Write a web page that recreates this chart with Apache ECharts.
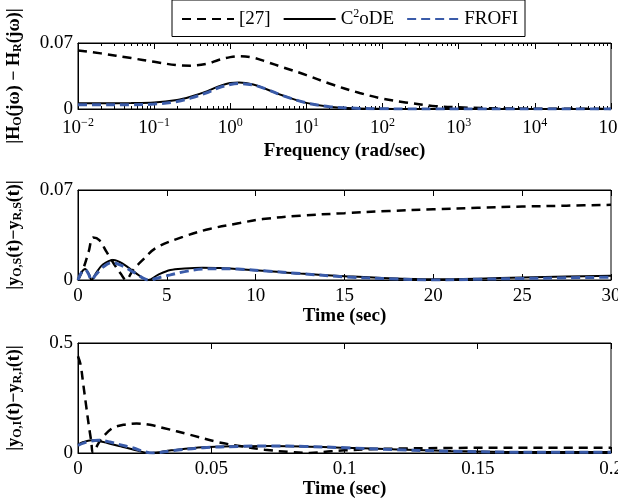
<!DOCTYPE html>
<html><head><meta charset="utf-8">
<script src="https://cdn.jsdelivr.net/npm/echarts@6/dist/echarts.min.js"></script>
<style>html,body{margin:0;padding:0;background:#fff}#c{width:618px;height:503px}</style>
</head><body><div id="c"></div>
<script>
// ---------- data ----------
const seriesNames = ['[27]', 'C2oDE', 'FROFI'];

// top: frequency response error
const freq = [0.01,0.02,0.05,0.1,0.2,0.3,0.5,0.7,1,1.3,2,3,5,10,20,50,100,200,500,1000,2000,5000,10000,100000];
const freqRef27 = [0.062,0.059,0.054,0.050,0.0465,0.046,0.048,0.052,0.055,0.056,0.0545,0.050,0.044,0.036,0.027,0.017,0.011,0.007,0.003,0.0018,0.001,0.0005,0.0003,0.0001];
const freqC2oDE = [0.0062,0.0062,0.0063,0.0068,0.0095,0.013,0.019,0.024,0.0275,0.028,0.026,0.021,0.014,0.0065,0.0025,0.0006,0.0002,0.0001,0.0001,0.0001,0.0001,0.0001,0.0001,0.0001];
const freqFROFI = [0.0045,0.0045,0.0046,0.0052,0.008,0.0115,0.0175,0.0225,0.026,0.027,0.0255,0.021,0.014,0.0065,0.0025,0.0006,0.0002,0.0001,0.0001,0.0001,0.0001,0.0001,0.0001,0.0001];

// middle: step response error
const tStepRef27 = [0,0.3,0.6,0.85,1.2,1.6,2.0,2.4,2.7,3.1,3.6,4.4,5.9,7.4,9.1,10.4,12.5,15,17.5,20,22.5,25,27.5,30];
const stepRef27  = [0,0.009,0.022,0.033,0.031,0.022,0.013,0.005,0,0.0078,0.015,0.025,0.0335,0.0397,0.0443,0.0474,0.050,0.052,0.0537,0.055,0.0562,0.0571,0.0578,0.0585];
const tStepC2oDE = [0,0.2,0.4,0.6,0.77,1.0,1.4,2.0,2.6,3.2,3.95,4.5,5.2,6,7,8,8.9,10.6,12.5,15,17.5,20,22.5,25,27.5,30];
const stepC2oDE  = [0,0.006,0.0085,0.005,0,0.005,0.012,0.0156,0.012,0.006,0,0.004,0.0078,0.009,0.0096,0.0094,0.0085,0.007,0.005,0.003,0.0013,0.0005,0.001,0.002,0.0027,0.0033];
const tStepFROFI = [0,0.2,0.4,0.6,0.75,1.0,1.4,1.9,2.5,3.2,4.0,4.6,5.2,6,7,8,9,10.6,12.5,15,17.5,20,22.5,25,27.5,30];
const stepFROFI  = [0,0.006,0.008,0.0045,0,0.004,0.010,0.0135,0.011,0.0055,0,0.002,0.004,0.0065,0.0085,0.0088,0.0085,0.007,0.005,0.0025,0.001,0,0.0006,0.0012,0.0017,0.0022];

// bottom: impulse response error
const tImpRef27 = [0,0.001,0.002,0.003,0.004,0.005,0.0056,0.0075,0.0094,0.0131,0.017,0.022,0.027,0.032,0.042,0.052,0.062,0.07,0.08,0.087,0.095,0.1,0.11,0.12,0.14,0.17,0.2];
const impRef27  = [0.44,0.40,0.31,0.22,0.13,0.05,0,0.04,0.074,0.114,0.128,0.134,0.128,0.114,0.083,0.051,0.029,0.015,0.004,0,0.008,0.012,0.017,0.02,0.023,0.024,0.024];
const tImpC2oDE = [0,0.002,0.005,0.008,0.012,0.016,0.02,0.027,0.035,0.047,0.06,0.072,0.085,0.1,0.12,0.14,0.16,0.18,0.2];
const impC2oDE  = [0.038,0.05,0.058,0.055,0.042,0.03,0.018,0,0.012,0.026,0.031,0.032,0.03,0.024,0.016,0.009,0.005,0.004,0.004];
const tImpFROFI = [0,0.002,0.004,0.0075,0.012,0.016,0.02,0.028,0.035,0.047,0.06,0.072,0.085,0.1,0.12,0.14,0.16,0.18,0.2];
const impFROFI  = [0.035,0.045,0.052,0.058,0.05,0.037,0.025,0,0.01,0.024,0.03,0.032,0.03,0.024,0.015,0.008,0.004,0.003,0.003];

// axis ticks
const freqMinorTicks = [];
for (let e = -2; e <= 4; e++) for (let k = 2; k <= 9; k++) freqMinorTicks.push(k * Math.pow(10, e));

// ---------- chart ----------
const FONT = 'Liberation Serif';
const BLUE = '#3a5ba9';
const zip = (xs, ys) => xs.map((x, i) => [x, ys[i]]);

const styles = [
  { color: '#000', lineStyle: { color: '#000', width: 2.5, type: [9, 6] } },
  { color: '#000', lineStyle: { color: '#000', width: 2, type: 'solid' } },
  { color: BLUE, lineStyle: { color: BLUE, width: 3, type: [9, 5] } }
];

const plots = [
  [zip(freq, freqRef27), zip(freq, freqC2oDE), zip(freq, freqFROFI)],
  [zip(tStepRef27, stepRef27), zip(tStepC2oDE, stepC2oDE), zip(tStepFROFI, stepFROFI)],
  [zip(tImpRef27, impRef27), zip(tImpC2oDE, impC2oDE), zip(tImpFROFI, impFROFI)]
];
const mainX = [0, 4, 6];

const series = [];
plots.forEach((p, g) => {
  p.forEach((d, s) => {
    series.push(Object.assign({
      type: 'line', name: seriesNames[s], data: d,
      xAxisIndex: mainX[g], yAxisIndex: g,
      showSymbol: false, symbol: 'none', smooth: 0.35, z: 2 + s,
      animation: false
    }, styles[s]));
  });
});

const labelStyle = { fontFamily: FONT, fontSize: 19, color: '#000' };
const nameStyle = { fontFamily: FONT, fontSize: 19, fontWeight: 'bold', color: '#000' };
const yNameStyle = {
  fontFamily: FONT, fontSize: 18, fontWeight: 'bold', color: '#000',
  rich: { sub: { fontFamily: FONT, fontSize: 12, fontWeight: 'bold', color: '#000', verticalAlign: 'bottom', padding: [8, 0, 0, 0] } }
};
const axLine = { show: true, lineStyle: { color: '#000', width: 1 } };

const grids = [
  { left: 78, top: 43, width: 533, height: 66 },
  { left: 78, top: 190, width: 533, height: 90 },
  { left: 78, top: 343, width: 533, height: 110 }
].map(g => Object.assign(g, { show: true, borderColor: '#000', borderWidth: 1, backgroundColor: '#fff', containLabel: false, outerBoundsMode: 'none' }));

const xAxis = [
  { // 0 freq bottom
    gridIndex: 0, type: 'log', logBase: 10, min: 0.01, max: 100000, position: 'bottom',
    axisLine: axLine, splitLine: { show: false },
    axisTick: { inside: true, length: 6, lineStyle: { color: '#000' } },
    axisLabel: {
      margin: 8, ...labelStyle, hideOverlap: false,
      formatter: v => '10{sup|' + String(Math.round(Math.log10(v))).replace('-', '−') + '}',
      rich: { sup: { fontFamily: FONT, fontSize: 12, color: '#000', verticalAlign: 'top', padding: [0, 0, 10, 0] } }
    },
    name: 'Frequency (rad/sec)', nameLocation: 'middle', nameGap: 33, nameTextStyle: nameStyle
  },
  { // 1 freq top
    gridIndex: 0, type: 'log', logBase: 10, min: 0.01, max: 100000, position: 'top',
    axisLine: axLine, splitLine: { show: false },
    axisTick: { inside: true, length: 6, lineStyle: { color: '#000' } }, axisLabel: { show: false }
  },
  { // 2 freq minor bottom
    gridIndex: 0, type: 'log', logBase: 10, min: 0.01, max: 100000, position: 'bottom',
    axisLine: { show: false }, splitLine: { show: false },
    axisTick: { inside: true, length: 3, customValues: freqMinorTicks, lineStyle: { color: '#000' } }, axisLabel: { show: false }
  },
  { // 3 freq minor top
    gridIndex: 0, type: 'log', logBase: 10, min: 0.01, max: 100000, position: 'top',
    axisLine: { show: false }, splitLine: { show: false },
    axisTick: { inside: true, length: 3, customValues: freqMinorTicks, lineStyle: { color: '#000' } }, axisLabel: { show: false }
  },
  { // 4 step bottom
    gridIndex: 1, type: 'value', min: 0, max: 30, interval: 5, position: 'bottom',
    axisLine: axLine, splitLine: { show: false },
    axisTick: { inside: true, length: 6, lineStyle: { color: '#000' } },
    axisLabel: { margin: 7, ...labelStyle },
    name: 'Time (sec)', nameLocation: 'middle', nameGap: 25, nameTextStyle: nameStyle
  },
  { // 5 step top
    gridIndex: 1, type: 'value', min: 0, max: 30, interval: 5, position: 'top',
    axisLine: axLine, splitLine: { show: false },
    axisTick: { inside: true, length: 6, lineStyle: { color: '#000' } }, axisLabel: { show: false }
  },
  { // 6 impulse bottom
    gridIndex: 2, type: 'value', min: 0, max: 0.2, interval: 0.05, position: 'bottom',
    axisLine: axLine, splitLine: { show: false },
    axisTick: { inside: true, length: 6, lineStyle: { color: '#000' } },
    axisLabel: { margin: 7, ...labelStyle },
    name: 'Time (sec)', nameLocation: 'middle', nameGap: 25, nameTextStyle: nameStyle
  },
  { // 7 impulse top
    gridIndex: 2, type: 'value', min: 0, max: 0.2, interval: 0.05, position: 'top',
    axisLine: axLine, splitLine: { show: false },
    axisTick: { inside: true, length: 6, lineStyle: { color: '#000' } }, axisLabel: { show: false }
  }
];

const yNames = [
  '|H{sub|O}(jω) − H{sub|R}(jω)|',
  '|y{sub|O,S}(t)−y{sub|R,S}(t)|',
  '|y{sub|O,I}(t)−y{sub|R,I}(t)|'
];
const yMax = [0.07, 0.07, 0.5];
const yAxis = yMax.map((m, g) => ({
  gridIndex: g, type: 'value', min: 0, max: m, interval: m,
  axisLine: axLine, splitLine: { show: false },
  axisTick: { show: false },
  axisLabel: { margin: 5, ...labelStyle },
  name: yNames[g], nameLocation: 'middle', nameRotate: 90, nameGap: 54, nameTextStyle: yNameStyle
}));

const option = {
  backgroundColor: '#fff',
  animation: false,
  legend: {
    data: seriesNames,
    left: 172, top: 0,
    padding: [8, 7, 8, 9],
    borderColor: '#000', borderWidth: 1,
    itemWidth: 52, itemHeight: 14, itemGap: 12,
    itemStyle: { opacity: 0, borderWidth: 0 },
    textStyle: {
      fontFamily: FONT, fontSize: 19, color: '#000',
      rich: { sup: { fontFamily: FONT, fontSize: 12, color: '#000', verticalAlign: 'top', padding: [0, 0, 10, 0] } }
    },
    formatter: n => n === 'C2oDE' ? 'C{sup|2}oDE' : n
  },
  grid: grids, xAxis, yAxis, series
};

const chart = echarts.init(document.getElementById('c'), null, { renderer: 'canvas' });
chart.setOption(option);
</script>
</body></html>
